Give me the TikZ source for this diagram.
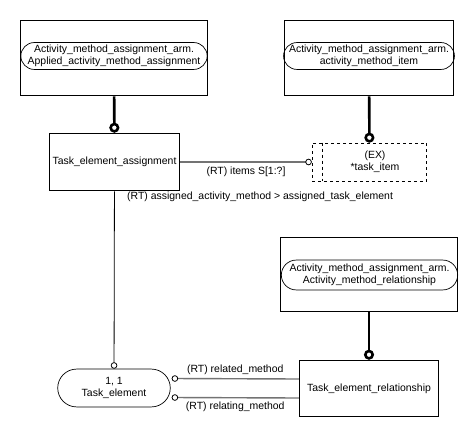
\documentclass[tikz,border=0pt]{standalone}
\usepackage{fontspec}
\setmainfont{Liberation Sans}
\usetikzlibrary{shapes.misc,arrows.meta}
\begin{document}
\begin{tikzpicture}[x=1bp, y=-1bp, font=\fontsize{10.5}{12}\selectfont,
		box/.style={draw, line width=0.8bp, rectangle, inner sep=0pt},
		pill/.style={draw, line width=0.7bp, rounded rectangle, inner sep=0pt, align=center},
		exbox/.style={draw, dashed, line width=0.8bp, rectangle, inner sep=0pt, align=center},
		supertype/.style={line width=2.6bp, -{Circle[open, length=10bp, width=10bp]}},
		attr/.style={line width=1.4bp, draw=black!55, -{Circle[open, length=6.5bp, width=6.5bp, line width=0.8bp, color=black]}},
		inv/.style={line width=0.8bp, -{Circle[open, length=6.5bp, width=6.5bp]}}]
		\useasboundingbox (0, 0) rectangle (473, 436);

		\node[box, minimum width=188, minimum height=76] at (114, 58) (amaa) {};
		\node[pill, minimum width=187, minimum height=27] at (114, 56) (amaaref) {Activity\_method\_assignment\_arm.\\Applied\_activity\_method\_assignment};
		\node[box, minimum width=170, minimum height=76] at (369, 58) (ami) {};
		\node[pill, minimum width=170, minimum height=27] at (369, 56) (amiref) {Activity\_method\_assignment\_arm.\\activity\_method\_item};
		\node[box, minimum width=178, minimum height=75] at (369, 274.5) (amr) {};
		\node[pill, minimum width=177, minimum height=30] at (369.5, 275) (amrref) {Activity\_method\_assignment\_arm.\\Activity\_method\_relationship};

		\node[box, minimum width=131, minimum height=58] at (114.5, 162) (tea) {Task\_element\_assignment};
		\node[exbox, minimum width=115, minimum height=38] at (369.5, 162) (ti) {\hspace*{11bp}(EX)\\\hspace*{11bp}*task\_item};
		\draw[dashed, line width=0.8bp] (ti.north west) ++(11, 0) coordinate (tia) -- (tia |- ti.south);
		\node[box, minimum width=140, minimum height=57] at (369, 388.5) (ter) {Task\_element\_relationship};
		\node[pill, minimum width=113, minimum height=38] at (114, 388) (te) {1, 1\\Task\_element};

		\path
		(amaa) edge[supertype] (tea)
		(ami) edge[supertype] (ti)
		(amr) edge[supertype] (ter)
		(tea) edge[attr] node[below=1bp, black] {(RT) items S[1:?]} (ti)
		(tea) edge[inv] node[at start, anchor=north west, xshift=9bp, yshift=3.5bp] {(RT) assigned\_activity\_method > assigned\_task\_element} (te)
		([yshift=9.5bp]ter.west) edge[attr] node[above=0.5bp, black] {(RT) related\_method} ([yshift=9.5bp, xshift=1bp]te.east)
		([yshift=-9.5bp]ter.west) edge[attr] node[below=0.5bp, black] {(RT) relating\_method} ([yshift=-9.5bp, xshift=1bp]te.east);
	\end{tikzpicture}
\end{document}
